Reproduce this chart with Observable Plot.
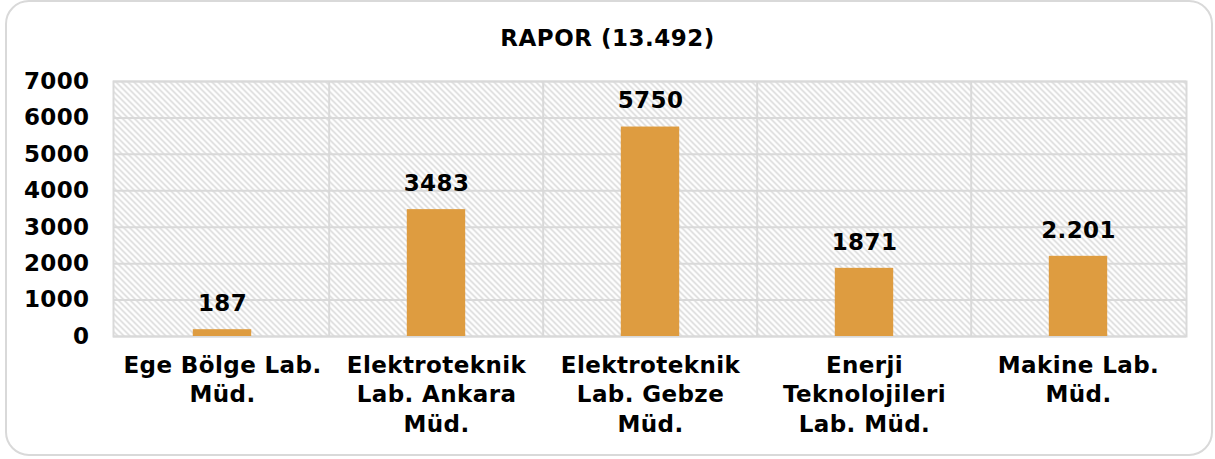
<!DOCTYPE html>
<html>
<head>
<meta charset="utf-8">
<script src="https://cdn.jsdelivr.net/npm/d3@7"></script>
<script src="https://cdn.jsdelivr.net/npm/@observablehq/plot@0.6"></script>
<style>
  html, body { margin: 0; padding: 0; background: #fff; }
  #wrap { position: relative; width: 1215px; height: 459px; overflow: hidden; font-family: "DejaVu Sans", Verdana, sans-serif; }
  #border { position: absolute; left: 5px; top: 0px; width: 1204px; height: 452px; border: 2px solid #d9d9d9; border-radius: 24px; box-sizing: content-box; }
  #title { position: absolute; left: 0; top: 0; width: 1215px; height: 62px; line-height: 76px; text-align: center; font-weight: bold; font-size: 23px; letter-spacing: 0.5px; color: #000; }
  #chart { position: absolute; left: 0; top: 62px; }
  #chart svg text { letter-spacing: 0.4px; }
</style>
</head>
<body>
<div id="wrap">
  <div id="border"></div>
  <div id="title"></div>
  <div id="chart"></div>
</div>
<script>
const title = "RAPOR (13.492)";
const categories = [
  "Ege Bölge Lab.\nMüd.",
  "Elektroteknik\nLab. Ankara\nMüd.",
  "Elektroteknik\nLab. Gebze\nMüd.",
  "Enerji\nTeknolojileri\nLab. Müd.",
  "Makine Lab.\nMüd."
];
const values = [187, 3483, 5750, 1871, 2201];
const valueLabels = ["187", "3483", "5750", "1871", "2.201"];
const yTicks = [0, 1000, 2000, 3000, 4000, 5000, 6000, 7000];

document.getElementById("title").textContent = title;

const data = categories.map((c, i) => ({cat: c, value: values[i], label: valueLabels[i]}));

const W = 1215, H = 397;
const mL = 113, mR = 29, mT = 19, mB = 123;
const band = (W - mL - mR) / categories.length;
const barW = 59;
const inset = (band - barW) / 2;
const grid = "#d9d9d9";

const plot = Plot.plot({
  width: W,
  height: H,
  marginLeft: mL,
  marginRight: mR,
  marginTop: mT,
  marginBottom: mB,
  style: {fontFamily: "'DejaVu Sans', Verdana, sans-serif", fontWeight: "bold", color: "#000", background: "transparent"},
  x: {domain: categories, padding: 0, label: null},
  y: {domain: [0, 7000], ticks: yTicks, label: null},
  marks: [
    Plot.frame({fill: "url(#hatch)", stroke: null}),
    Plot.ruleY(yTicks, {stroke: grid, strokeWidth: 2}),
    Plot.ruleX(categories.slice(1), {x: d => d, dx: -band / 2, stroke: grid, strokeWidth: 2}),
    Plot.frame({stroke: grid, strokeWidth: 2}),
    Plot.barY(data, {x: "cat", y: "value", fill: "#DE9C40", insetLeft: inset, insetRight: inset}),
    Plot.text(data, {x: "cat", y: "value", text: "label", dy: -26, fontSize: 23, fontWeight: "bold", fill: "#000"}),
    Plot.axisY({ticks: yTicks, tickSize: 0, tickPadding: 24, fontSize: 23, fontWeight: "bold", label: null, tickFormat: d => String(d)}),
    Plot.axisX({tickSize: 0, tickPadding: 16, fontSize: 23, fontWeight: "bold", label: null, lineHeight: 1.27, lineAnchor: "top"})
  ]
});

const svg = d3.select(plot);
const defs = svg.insert("defs", ":first-child");
const S = 6;
const pat = defs.append("pattern")
  .attr("id", "hatch")
  .attr("patternUnits", "userSpaceOnUse")
  .attr("width", S).attr("height", S);
pat.append("rect").attr("width", S).attr("height", S).attr("fill", "#fff");
pat.append("path")
  .attr("d", `M-1,-1L${S + 1},${S + 1}M-1,${S - 1}L1,${S + 1}M${S - 1},-1L${S + 1},1`)
  .attr("stroke", "#d4d4d4").attr("stroke-width", 1.4);

document.getElementById("chart").appendChild(plot);
</script>
</body>
</html>
